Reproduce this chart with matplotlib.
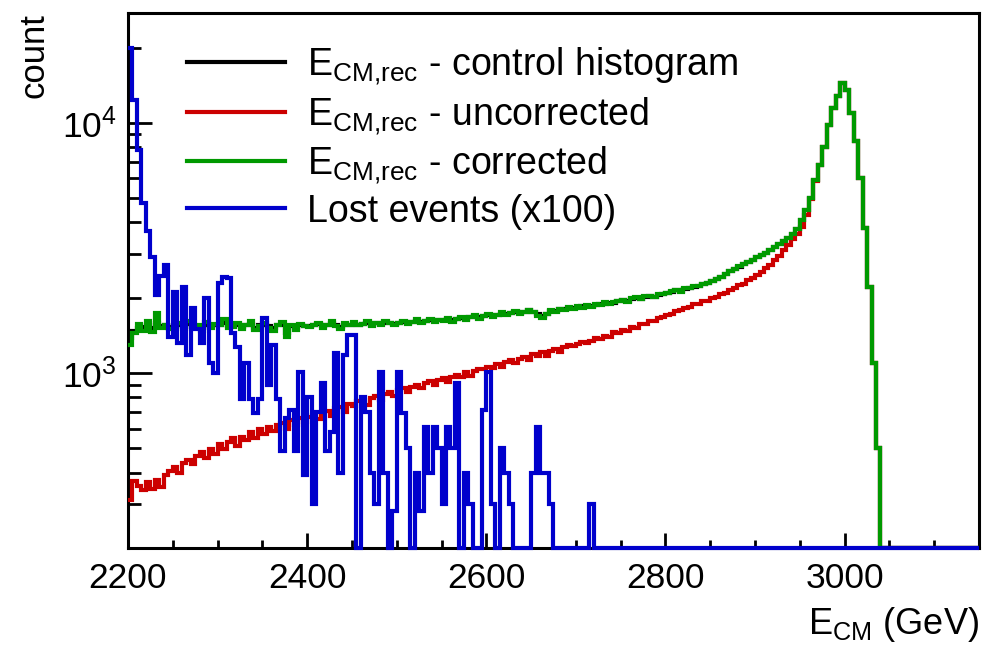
import numpy as np
import matplotlib
matplotlib.use("Agg")
import matplotlib.pyplot as plt
from matplotlib.lines import Line2D
from matplotlib.ticker import LogLocator, MultipleLocator, NullFormatter, LogFormatterSciNotation

plt.rcParams['font.family'] = ['Liberation Sans', 'DejaVu Sans']
plt.rcParams['mathtext.fontset'] = 'custom'
plt.rcParams['mathtext.rm'] = 'Liberation Sans'
plt.rcParams['mathtext.it'] = 'Liberation Sans:italic'
plt.rcParams['mathtext.bf'] = 'Liberation Sans:bold'

# histogram binning (GeV)
bin_lo = 2200
bin_hi = 3150
bin_w = 5

# counts per 5 GeV bin, one row = 50 GeV (row start in comment)
control = [
    1380, 1480, 1520, 1530, 1560, 1510, 1580, 1540, 1550, 1530,  # 2200
    1550, 1560, 1530, 1570, 1550, 1540, 1520, 1560, 1540, 1550,  # 2250
    1550, 1580, 1540, 1550, 1560, 1530, 1550, 1570, 1520, 1550,  # 2300
    1560, 1540, 1520, 1550, 1560, 1450, 1540, 1520, 1550, 1540,  # 2350
    1540, 1550, 1570, 1540, 1550, 1580, 1550, 1530, 1560, 1560,  # 2400
    1570, 1560, 1570, 1590, 1560, 1580, 1570, 1590, 1580, 1570,  # 2450
    1590, 1600, 1590, 1600, 1620, 1600, 1610, 1630, 1610, 1630,  # 2500
    1630, 1650, 1630, 1650, 1660, 1650, 1670, 1690, 1670, 1690,  # 2550
    1710, 1700, 1710, 1730, 1720, 1740, 1760, 1740, 1760, 1780,  # 2600
    1760, 1720, 1690, 1730, 1770, 1770, 1800, 1800, 1820, 1820,  # 2650
    1840, 1850, 1860, 1850, 1880, 1890, 1890, 1910, 1910, 1940,  # 2700
    1960, 1950, 1980, 2000, 1980, 2020, 2040, 2020, 2060, 2080,  # 2750
    2090, 2110, 2140, 2130, 2170, 2190, 2210, 2230, 2270, 2300,  # 2800
    2330, 2370, 2430, 2500, 2560, 2610, 2660, 2720, 2780, 2840,  # 2850
    2900, 2960, 3020, 3100, 3180, 3270, 3370, 3480, 3600, 3780,  # 2900
    4100, 4500, 5000, 5900, 6800, 8000, 9800, 11500, 12800, 14400,  # 2950
    13500, 11000, 8500, 6000, 3800, 2200, 1100, 500, 0, 0,  # 3000
    0, 0, 0, 0, 0, 0, 0, 0, 0, 0,  # 3050
    0, 0, 0, 0, 0, 0, 0, 0, 0, 0,  # 3100
]

uncorrected = [
    310, 372, 355, 340, 368, 345, 375, 350, 392, 405,  # 2200
    420, 398, 436, 450, 432, 468, 482, 458, 498, 476,  # 2250
    522, 498, 530, 548, 510, 556, 538, 582, 552, 596,  # 2300
    572, 608, 588, 622, 632, 598, 648, 620, 660, 638,  # 2350
    668, 680, 655, 698, 708, 676, 724, 735, 698, 750,  # 2400
    740, 772, 782, 748, 798, 812, 780, 826, 842, 810,  # 2450
    856, 870, 842, 884, 898, 868, 912, 928, 896, 942,  # 2500
    952, 918, 966, 980, 968, 1008, 975, 1022, 1042, 1035,  # 2550
    1060, 1048, 1090, 1062, 1112, 1128, 1095, 1142, 1162, 1130,  # 2600
    1188, 1175, 1212, 1170, 1228, 1252, 1215, 1272, 1292, 1285,  # 2650
    1305, 1332, 1322, 1345, 1378, 1372, 1410, 1400, 1455, 1440,  # 2700
    1482, 1475, 1522, 1518, 1570, 1565, 1612, 1608, 1660, 1672,  # 2750
    1712, 1720, 1772, 1780, 1822, 1830, 1882, 1890, 1942, 1950,  # 2800
    2000, 2020, 2072, 2090, 2150, 2180, 2250, 2280, 2350, 2390,  # 2850
    2470, 2530, 2630, 2710, 2840, 2950, 3110, 3250, 3440, 3610,  # 2900
    3850, 4300, 4950, 5850, 6800, 8000, 9800, 11500, 12800, 14400,  # 2950
    13500, 11000, 8500, 6000, 3800, 2200, 1100, 500, 0, 0,  # 3000
    0, 0, 0, 0, 0, 0, 0, 0, 0, 0,  # 3050
    0, 0, 0, 0, 0, 0, 0, 0, 0, 0,  # 3100
]

corrected = [
    1300, 1440, 1570, 1480, 1610, 1460, 1740, 1520, 1560, 1500,  # 2200
    1540, 1590, 1500, 1620, 1530, 1560, 1480, 1600, 1520, 1570,  # 2250
    1550, 1640, 1510, 1530, 1590, 1500, 1560, 1620, 1490, 1540,  # 2300
    1580, 1520, 1470, 1560, 1600, 1400, 1550, 1490, 1570, 1540,  # 2350
    1530, 1560, 1590, 1520, 1550, 1610, 1540, 1500, 1580, 1560,  # 2400
    1600, 1550, 1570, 1620, 1540, 1590, 1560, 1610, 1580, 1550,  # 2450
    1590, 1620, 1570, 1600, 1640, 1580, 1610, 1650, 1600, 1630,  # 2500
    1620, 1660, 1600, 1640, 1680, 1630, 1670, 1700, 1650, 1690,  # 2550
    1720, 1680, 1710, 1750, 1700, 1740, 1770, 1730, 1760, 1790,  # 2600
    1750, 1690, 1660, 1720, 1780, 1760, 1800, 1790, 1830, 1810,  # 2650
    1850, 1820, 1870, 1830, 1890, 1870, 1920, 1890, 1930, 1950,  # 2700
    1960, 1930, 1990, 2010, 1970, 2030, 2040, 2010, 2070, 2080,  # 2750
    2090, 2120, 2140, 2110, 2180, 2190, 2220, 2230, 2280, 2300,  # 2800
    2330, 2380, 2420, 2500, 2560, 2600, 2670, 2720, 2780, 2840,  # 2850
    2900, 2960, 3020, 3100, 3180, 3270, 3370, 3480, 3600, 3780,  # 2900
    4100, 4500, 5000, 5900, 6800, 8000, 9800, 11500, 12800, 14500,  # 2950
    13500, 11000, 8500, 6000, 3800, 2200, 1100, 500, 0, 0,  # 3000
    0, 0, 0, 0, 0, 0, 0, 0, 0, 0,  # 3050
    0, 0, 0, 0, 0, 0, 0, 0, 0, 0,  # 3100
]

# lost events, already scaled x100
lost_x100 = [
    20000, 12300, 7800, 4800, 3700, 2900, 2050, 2450, 2700, 1400,  # 2200
    2100, 1320, 2200, 1180, 1820, 1500, 1320, 2000, 1100, 1000,  # 2250
    2300, 2420, 2400, 1450, 1270, 790, 1100, 790, 690, 790,  # 2300
    1660, 900, 1290, 790, 490, 660, 710, 490, 1010, 390,  # 2350
    800, 300, 700, 910, 490, 580, 1200, 400, 1180, 1420,  # 2400
    1420, 0, 800, 700, 400, 300, 1010, 400, 0, 280,  # 2450
    1010, 692, 500, 0, 400, 280, 608, 400, 608, 500,  # 2500
    300, 608, 500, 912, 0, 400, 300, 0, 0, 710,  # 2550
    1010, 300, 0, 500, 400, 300, 0, 0, 0, 0,  # 2600
    400, 608, 400, 400, 300, 0, 0, 0, 0, 0,  # 2650
    0, 0, 0, 300, 0, 0, 0, 0, 0, 0,  # 2700
    0, 0, 0, 0, 0, 0, 0, 0, 0, 0,  # 2750
    0, 0, 0, 0, 0, 0, 0, 0, 0, 0,  # 2800
    0, 0, 0, 0, 0, 0, 0, 0, 0, 0,  # 2850
    0, 0, 0, 0, 0, 0, 0, 0, 0, 0,  # 2900
    0, 0, 0, 0, 0, 0, 0, 0, 0, 0,  # 2950
    0, 0, 0, 0, 0, 0, 0, 0, 0, 0,  # 3000
    0, 0, 0, 0, 0, 0, 0, 0, 0, 0,  # 3050
    0, 0, 0, 0, 0, 0, 0, 0, 0, 0,  # 3100
]

labels = [
    r'E$_{\mathregular{CM{,}rec}}$ - control histogram',
    r'E$_{\mathregular{CM{,}rec}}$ - uncorrected',
    r'E$_{\mathregular{CM{,}rec}}$ - corrected',
    'Lost events (x100)',
]
colors = ['black', '#cc0000', '#009900', '#0000cc']

ymin, ymax = 200, 27500
edges = np.arange(bin_lo, bin_hi + bin_w, bin_w)

fig = plt.figure(figsize=(9.89, 6.45), dpi=100)
ax = fig.add_axes([0.1294, 0.1504, 0.8605, 0.8295])

series = [control, uncorrected, corrected, lost_x100]
for i, (vals, c) in enumerate(zip(series, colors)):
    v = np.clip(np.array(vals, dtype=float), ymin, None)
    ax.stairs(v, edges, baseline=None, color=c, lw=3.0, zorder=2 + i,
              clip_on=(i != 3))

ax.set_yscale('log')
ax.set_xlim(bin_lo, bin_hi)
ax.set_ylim(ymin, ymax)

ax.xaxis.set_major_locator(MultipleLocator(200))
ax.xaxis.set_minor_locator(MultipleLocator(50))
ax.yaxis.set_major_locator(LogLocator(base=10))
ax.yaxis.set_major_formatter(LogFormatterSciNotation())
ax.yaxis.set_minor_locator(LogLocator(base=10, subs=np.arange(2, 10)))
ax.yaxis.set_minor_formatter(NullFormatter())

ax.tick_params(axis='both', which='both', direction='in', top=False, right=False,
               labelsize=25.5, width=2)
ax.tick_params(axis='x', which='major', length=11, pad=10)
ax.tick_params(axis='x', which='minor', length=5.5)
ax.tick_params(axis='y', which='major', length=17, pad=8)
ax.tick_params(axis='y', which='minor', length=9)
for s in ax.spines.values():
    s.set_linewidth(2.2)

ax.set_xlabel(r'E$_{\mathregular{CM}}$ (GeV)', fontsize=26, loc='right', labelpad=7)
ax.set_ylabel('count', fontsize=25, loc='top', labelpad=8)

handles = [Line2D([], [], color=c, lw=3.0) for c in colors]
ax.legend(handles, labels, loc='upper left', bbox_to_anchor=(0.052, 0.967),
          frameon=False, fontsize=27, handlelength=2.6, handletextpad=0.6,
          labelspacing=0.2, borderaxespad=0)

fig.savefig('out.png', dpi=100)
